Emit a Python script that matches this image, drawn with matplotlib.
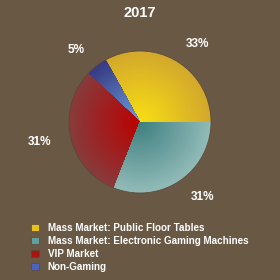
import numpy as np
import matplotlib.pyplot as plt
from matplotlib.patches import Wedge, Patch
from matplotlib.colors import to_rgb

plt.rcParams['font.family'] = ['Liberation Sans', 'DejaVu Sans']

title = "2017"
categories = ["Mass Market: Public Floor Tables",
              "Mass Market: Electronic Gaming Machines",
              "VIP Market", "Non-Gaming"]
values = [33, 31, 31, 5]
pct_labels = ["33%", "31%", "31%", "5%"]

# drawing order counterclockwise from 3 o'clock: yellow, blue, red, teal
order = [0, 3, 2, 1]

bg = "#695944"
center_cols = ["#f9e012", "#3d7f7f", "#bb0000", "#6f9fde"]
edge_cols = ["#d3a82c", "#92bbb8", "#883b3c", "#363a82"]
legend_cols = ["#e8c21c", "#62a0a0", "#a81414", "#4a62c0"]

fig = plt.figure(figsize=(2.8, 2.8), dpi=100, facecolor=bg)
ax = fig.add_axes([0, 0, 1, 1])
ax.set_facecolor(bg)

vals = [values[i] for i in order]
wedges, texts = ax.pie(vals, labels=[pct_labels[i] for i in order],
                       startangle=0, counterclock=True, radius=1,
                       labeldistance=1.28,
                       colors=[edge_cols[i] for i in order],
                       wedgeprops=dict(linewidth=0),
                       textprops=dict(color="white", fontsize=8.5,
                                      fontweight="bold"))

# radial gradient inside each slice
n = 60
for w, i in zip(wedges, order):
    c0 = np.array(to_rgb(edge_cols[i]))
    c1 = np.array(to_rgb(center_cols[i]))
    for k in range(n):
        f = k / n
        col = c0 + (c1 - c0) * f
        ax.add_patch(Wedge((0, 0), 1 - f, w.theta1, w.theta2,
                           facecolor=col, edgecolor="none"))
ax.add_patch(plt.Circle((0, 0), 1, fill=False, edgecolor="#5a4a38",
                        linewidth=0.6))

r_px = 71
ax.set_xlim(-140 / r_px, 140 / r_px)
ax.set_ylim(-158 / r_px, 122 / r_px)
ax.set_aspect("equal")
ax.axis("off")

fig.text(0.5, 1 - 13 / 280, title, ha="center", va="center",
         color="white", fontsize=10.5, fontweight="bold")

handles = [Patch(facecolor=c, edgecolor="#5a4a38", linewidth=0.5)
           for c in legend_cols]
leg = fig.legend(handles, categories, loc="upper left",
                 bbox_to_anchor=(27 / 280, 1 - 219 / 280),
                 frameon=False, handlelength=0.85, handleheight=0.85,
                 handletextpad=0.85, labelspacing=0.3, borderaxespad=0,
                 prop=dict(size=7.15, weight="bold"))
for t in leg.get_texts():
    t.set_color("white")

fig.savefig("out.png", dpi=100, facecolor=bg)
